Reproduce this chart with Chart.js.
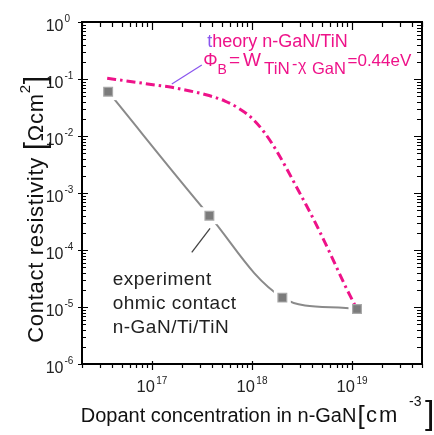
<!DOCTYPE html>
<html>
<head>
<meta charset="utf-8">
<script src="https://cdn.jsdelivr.net/npm/chart.js@4"></script>
<style>
  html, body { margin: 0; padding: 0; background: #fff; }
  canvas { display: block; }
</style>
</head>
<body>
<canvas id="c" width="434" height="435"></canvas>
<script>
// Measured contact resistivity of n-GaN/Ti/TiN ohmic contacts
const expDoping = [3.65e16, 3.75e17, 2.01e18, 1.12e19];   // cm^-3
const expRho    = [6.0e-2, 4.0e-4, 1.46e-5, 9.2e-6];      // Ohm cm^2

// Theoretical n-GaN/TiN curve (barrier 0.44 eV)
const theoryDoping = [3.57e16, 6.32e16, 1.08e17, 1.58e17, 2.15e17, 3.40e17, 5.37e17, 7.29e17,
                      9.82e17, 1.32e18, 1.74e18, 2.19e18, 2.75e18, 3.31e18, 3.97e18, 4.77e18,
                      6.14e18, 8.46e18, 1.09e19];
const theoryRho    = [0.103, 0.0897, 0.0785, 0.0715, 0.0641, 0.0535, 0.0411, 0.0310,
                      0.0211, 0.01175, 5.68e-3, 2.80e-3, 1.33e-3, 7.24e-4, 3.95e-4, 2.07e-4,
                      8.17e-5, 2.43e-5, 1.0e-5];

// Axis decades that carry labels
const xMajorExponents = [17, 18, 19];
const yMajorExponents = [0, -1, -2, -3, -4, -5, -6];

const FONT = "'Liberation Sans', Arial, sans-serif";
const MAGENTA = '#ee1289';
const PURPLE = '#8a55ee';
const GREY = '#8a8a8a';

const toXY = (xs, ys) => xs.map((x, i) => ({ x: x, y: ys[i] }));

// draw a run of text pieces with different sizes / vertical offsets;
// a piece may carry its own x position and letter spacing
function drawRuns(ctx, x, y, runs, align, spacing) {
  const sp = r => ((r.ls !== undefined ? r.ls : (spacing || 0)) + 'px');
  let total = 0;
  runs.forEach(r => {
    ctx.letterSpacing = sp(r);
    ctx.font = r.size + 'px ' + FONT;
    total += ctx.measureText(r.t).width;
  });
  let cx = x;
  if (align === 'center') cx = x - total / 2;
  if (align === 'right') cx = x - total;
  ctx.textAlign = 'left';
  ctx.textBaseline = 'alphabetic';
  runs.forEach(r => {
    ctx.letterSpacing = sp(r);
    ctx.font = r.size + 'px ' + FONT;
    if (r.color) ctx.fillStyle = r.color;
    if (r.x !== undefined) cx = r.x;
    ctx.fillText(r.t, cx, y + (r.dy || 0));
    cx += ctx.measureText(r.t).width;
  });
  ctx.letterSpacing = '0px';
  return total;
}

const frameAndText = {
  id: 'frameAndText',
  afterDatasetsDraw(chart) {
    const ctx = chart.ctx;
    const xs = chart.scales.x, ys = chart.scales.y;
    const a = chart.chartArea;
    ctx.save();

    // leader lines pointing at the curves
    ctx.lineWidth = 1.2;
    ctx.strokeStyle = PURPLE;
    ctx.beginPath();
    ctx.moveTo(xs.getPixelForValue(1.58e17), ys.getPixelForValue(0.0817));
    ctx.lineTo(xs.getPixelForValue(3.15e17), ys.getPixelForValue(0.176));
    ctx.stroke();
    ctx.strokeStyle = '#444';
    ctx.lineWidth = 1.3;
    ctx.beginPath();
    ctx.moveTo(xs.getPixelForValue(2.5e17), ys.getPixelForValue(9.1e-5));
    ctx.lineTo(xs.getPixelForValue(3.81e17), ys.getPixelForValue(2.4e-4));
    ctx.stroke();

    // frame
    ctx.strokeStyle = '#000';
    ctx.lineWidth = 2;
    ctx.strokeRect(a.left, a.top, a.right - a.left, a.bottom - a.top);

    // ticks
    ctx.lineWidth = 1.2;
    ctx.beginPath();
    for (let d = 16; d <= 19; d++) {
      for (let m = 1; m <= 9; m++) {
        const v = m * Math.pow(10, d);
        if (v < xs.min || v > xs.max) continue;
        const px = Math.round(xs.getPixelForValue(v)) + 0.5;
        const major = m === 1;
        ctx.moveTo(px, a.bottom - (major ? 3 : 0));
        ctx.lineTo(px, a.bottom + (major ? 6 : 4));
        ctx.moveTo(px, a.top);
        ctx.lineTo(px, a.top + (major ? 8 : 5));
      }
    }
    for (let d = -6; d <= 0; d++) {
      for (let m = 1; m <= 9; m++) {
        const v = m * Math.pow(10, d);
        if (v < ys.min * 0.999 || v > ys.max * 1.001) continue;
        const py = Math.round(ys.getPixelForValue(v)) + 0.5;
        const major = m === 1;
        ctx.moveTo(a.left - (major ? 4 : 0), py);
        ctx.lineTo(a.left + (major ? 6 : 4), py);
        ctx.moveTo(a.right, py);
        ctx.lineTo(a.right - (major ? 8 : 5), py);
      }
    }
    ctx.stroke();

    // tick labels
    ctx.fillStyle = '#222';
    yMajorExponents.forEach(e => {
      const py = ys.getPixelForValue(Math.pow(10, e));
      drawRuns(ctx, a.left - 18.5, py + 9, [{ t: '10', size: 16 }], 'right');
      drawRuns(ctx, a.left - 17.5, py - 0.5, [{ t: String(e), size: 10 }], 'left');
    });
    xMajorExponents.forEach(e => {
      const px = xs.getPixelForValue(Math.pow(10, e));
      ctx.font = '16.5px ' + FONT;
      const w1 = ctx.measureText('10').width;
      ctx.font = '10px ' + FONT;
      const w2 = ctx.measureText(String(e)).width;
      const start = px - (w1 + 1.5 + w2) / 2;
      drawRuns(ctx, start, a.bottom + 28, [{ t: '10', size: 16.5 }], 'left');
      drawRuns(ctx, start + w1 + 1.5, a.bottom + 20, [{ t: String(e), size: 10 }], 'left');
    });

    // axis titles
    ctx.fillStyle = '#111';
    drawRuns(ctx, 80.7, 421.5, [
      { t: 'Dopant concentration in n-GaN', size: 20 },
      { t: '[', size: 26, dy: 2, x: 357.5 },
      { t: 'cm', size: 22, x: 366, ls: 2 },
      { t: '-3', size: 14, dy: -16, x: 409 },
      { t: ']', size: 34, dy: 2, x: 425 }
    ], 'left');

    ctx.save();
    ctx.translate(43, 209);
    ctx.rotate(-Math.PI / 2);
    drawRuns(ctx, 0, 0, [
      { t: 'Contact resistivity ', size: 22 },
      { t: '[', size: 30, dy: 2 },
      { t: '\u03A9cm', size: 22 },
      { t: '2', size: 15, dy: -13 },
      { t: ']', size: 30, dy: 2 }
    ], 'center', 0.7);
    ctx.restore();

    // theory annotation
    drawRuns(ctx, 207.3, 47, [
      { t: 't', size: 18, color: PURPLE },
      { t: 'heory n-GaN/TiN', size: 18, color: MAGENTA }
    ], 'left');
    ctx.fillStyle = MAGENTA;
    drawRuns(ctx, 203.3, 65.5, [
      { t: '\u03A6', size: 18 },
      { t: 'B', size: 14, dy: 8, x: 217.5 },
      { t: '=', size: 19, x: 229 },
      { t: 'W', size: 19, x: 243 },
      { t: 'TiN', size: 17, dy: 8, x: 264 },
      { t: '-', size: 16, dy: 3, x: 292 },
      { t: '\u03C7', size: 16, dy: 5, x: 298 },
      { t: 'GaN', size: 16.5, dy: 8, x: 312 },
      { t: '=0.44eV', size: 17, x: 347.5 }
    ], 'left');

    // experiment annotation
    ctx.fillStyle = '#222';
    ['experiment', 'ohmic contact', 'n-GaN/Ti/TiN'].forEach((s, i) => {
      drawRuns(ctx, 112.7, 285 + i * 24, [{ t: s, size: 19 }], 'left', 0.5);
    });

    ctx.restore();
  }
};

new Chart(document.getElementById('c'), {
  type: 'line',
  data: {
    datasets: [
      { // measured points
        data: toXY(expDoping, expRho), order: 0, showLine: false,
        pointStyle: 'rect', pointRadius: 6.2, pointBackgroundColor: '#7b7b7b',
        pointBorderColor: '#a9a9a9', pointBorderWidth: 1.2
      },
      { // theory curve
        data: toXY(theoryDoping, theoryRho), order: 1,
        borderColor: MAGENTA, borderWidth: 3, borderDash: [9, 4, 2.5, 4],
        pointRadius: 0, cubicInterpolationMode: 'monotone', fill: false
      },
      { // white clearance around the measured points
        data: toXY(expDoping, expRho), order: 2, showLine: false,
        pointStyle: 'rect', pointRadius: 12, pointBackgroundColor: '#fff',
        pointBorderWidth: 0
      },
      { // guide line through the measured points
        data: toXY(expDoping, expRho), order: 3,
        borderColor: GREY, borderWidth: 2, pointRadius: 0, tension: 0.35, fill: false
      }
    ]
  },
  options: {
    responsive: false,
    animation: false,
    devicePixelRatio: 1,
    layout: { padding: { left: 82, right: 9, top: 22, bottom: 71 } },
    plugins: { legend: { display: false }, tooltip: { enabled: false } },
    scales: {
      x: { type: 'logarithmic', min: 2e16, max: 5e19, display: false },
      y: { type: 'logarithmic', min: 1e-6, max: 1, display: false }
    }
  },
  plugins: [frameAndText]
});
</script>
</body>
</html>
